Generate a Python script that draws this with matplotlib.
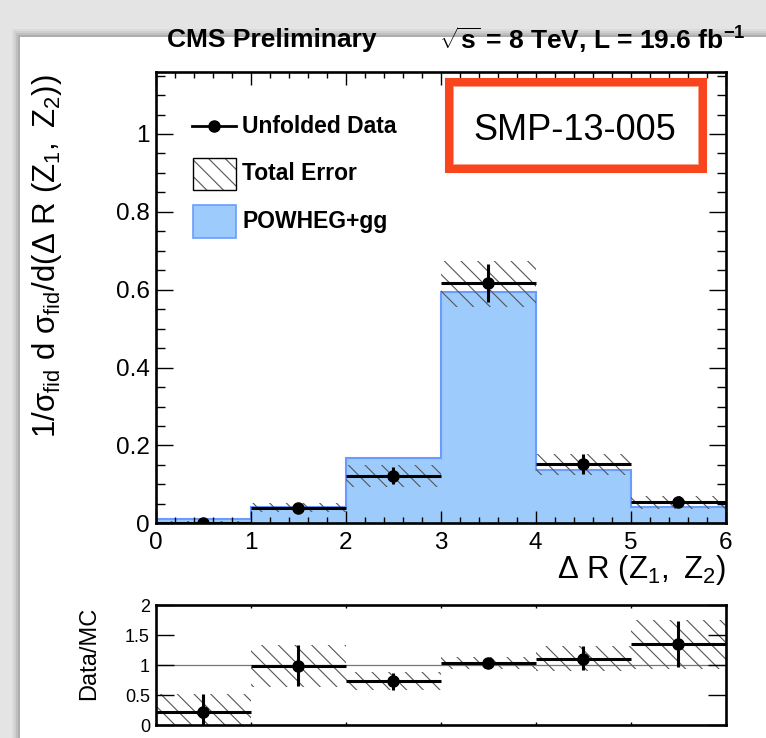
import numpy as np
import matplotlib
matplotlib.use('Agg')
import matplotlib.pyplot as plt
from matplotlib.patches import Rectangle
from matplotlib.lines import Line2D
from matplotlib.ticker import MultipleLocator

plt.rcParams['font.family'] = ['Liberation Sans', 'DejaVu Sans']
plt.rcParams['mathtext.fontset'] = 'custom'
plt.rcParams['mathtext.rm'] = 'Liberation Sans'
plt.rcParams['mathtext.it'] = 'Liberation Sans:italic'
plt.rcParams['mathtext.bf'] = 'Liberation Sans:bold'
plt.rcParams['hatch.linewidth'] = 0.8

# data
bin_edges = [0, 1, 2, 3, 4, 5, 6]
mc = [0.011, 0.041, 0.168, 0.593, 0.137, 0.041]
data = [0.002, 0.040, 0.122, 0.618, 0.152, 0.055]
data_err_lo = [0.002, 0.006, 0.022, 0.050, 0.025, 0.014]
data_err_hi = [0.002, 0.006, 0.022, 0.048, 0.025, 0.016]
band_lo = [0.0, 0.028, 0.094, 0.556, 0.124, 0.038]
band_hi = [0.006, 0.053, 0.150, 0.675, 0.177, 0.071]

ratio = [0.21, 0.99, 0.73, 1.04, 1.10, 1.35]
ratio_err_lo = [0.21, 0.34, 0.14, 0.03, 0.19, 0.39]
ratio_err_hi = [0.31, 0.34, 0.14, 0.03, 0.21, 0.39]
ratio_band_lo = [0.0, 0.64, 0.58, 0.93, 0.90, 0.93]
ratio_band_hi = [0.52, 1.33, 0.89, 1.14, 1.32, 1.75]

W, H = 766, 738
centers = 0.5 * (np.array(bin_edges[:-1]) + np.array(bin_edges[1:]))
widths = np.diff(bin_edges)


def fx(x):
    return x / W


def fy(y):
    return 1 - y / H


fig = plt.figure(figsize=(W / 100, H / 100), dpi=100)
fig.patch.set_facecolor('#e4e4e4')

# slide card with a soft shadow
for i, a in enumerate([0.04, 0.05, 0.07, 0.09]):
    d = 8 - 2 * i
    fig.add_artist(Rectangle((fx(20 - d), fy(H + 10)), fx(W + 20), fy(37 - d) - fy(H + 10),
                             transform=fig.transFigure, facecolor='k', alpha=a, lw=0, zorder=-3))
fig.add_artist(Rectangle((fx(20), 0), 1, fy(37), transform=fig.transFigure,
                         facecolor='white', lw=0, zorder=-2))

fill_c = '#9dcbfb'
edge_c = '#6a9cff'
hatch = '\\\\'

# main panel
ax = fig.add_axes([fx(155.5), fy(523.3), fx(725.7) - fx(155.5), fy(71.7) - fy(523.3)])
ax.stairs(mc, bin_edges, fill=True, color=fill_c, zorder=1)
ax.stairs(mc, bin_edges, color=edge_c, lw=1.5, zorder=1.1)
ax.bar(centers, np.array(band_hi) - np.array(band_lo), bottom=band_lo, width=widths,
       facecolor='none', edgecolor='#555555', hatch=hatch, lw=0, zorder=1.5)
ax.errorbar(centers, data, xerr=widths / 2, yerr=[data_err_lo, data_err_hi], fmt='o',
            color='k', ms=8, elinewidth=2.2, capsize=0, zorder=3)

ax.set_xlim(0, 6)
ax.set_ylim(0, 1.16)
ax.xaxis.set_major_locator(MultipleLocator(1))
ax.xaxis.set_minor_locator(MultipleLocator(0.2))
ax.yaxis.set_minor_locator(MultipleLocator(0.05))
ax.set_yticks([0, 0.2, 0.4, 0.6, 0.8, 1.0])
ax.set_yticklabels(['0', '0.2', '0.4', '0.6', '0.8', '1'])
ax.tick_params(which='both', direction='in', top=True, right=True, width=1, colors='k')
ax.tick_params(axis='y', which='major', length=12.5, labelsize=17.5, pad=4)
ax.tick_params(axis='y', which='minor', length=6.5)
ax.tick_params(axis='x', which='major', length=9, labelsize=17.5, pad=6)
ax.tick_params(axis='x', which='minor', length=4.5)
for s in ax.spines.values():
    s.set_linewidth(1.9)

ax.set_ylabel(r'$\mathregular{1/\sigma_{fid}\ d\ \sigma_{fid}/d(\Delta\ R\ (Z_{1},\ Z_{2}))}$',
              fontsize=22.5)
ax.yaxis.set_label_coords((64 - 155.5) / 570.2, (523.3 - 256) / 451.6)
ax.text(1.0, (523.3 - 578) / 451.6, r'$\mathregular{\Delta\ R\ (Z_{1},\ Z_{2})}$',
        transform=ax.transAxes, ha='right', va='baseline', fontsize=22.5)


def ax_pt(px, py):
    return (px - 155.5) / 570.2, (523.3 - py) / 451.6


# legend drawn by hand
x0, yl = ax_pt(192, 126)
x1, _ = ax_pt(236, 126)
xm, _ = ax_pt(214, 126)
ax.add_line(Line2D([x0, x1], [yl, yl], transform=ax.transAxes, color='k', lw=2))
ax.add_line(Line2D([xm], [yl], transform=ax.transAxes, color='k', marker='o', ms=8))
bx, by = ax_pt(193, 190)
bx2, by2 = ax_pt(236, 158)
ax.add_patch(Rectangle((bx, by), bx2 - bx, by2 - by, transform=ax.transAxes,
                       facecolor='white', edgecolor='#555555', hatch=hatch, lw=0, zorder=4))
ax.add_patch(Rectangle((bx, by), bx2 - bx, by2 - by, transform=ax.transAxes,
                       facecolor='none', edgecolor='k', lw=1, zorder=4))
cx, cy = ax_pt(193, 238)
cx2, cy2 = ax_pt(236, 205)
ax.add_patch(Rectangle((cx, cy), cx2 - cx, cy2 - cy, transform=ax.transAxes,
                       facecolor=fill_c, edgecolor=edge_c, lw=1.2, zorder=4))
for label, py in [('Unfolded Data', 126), ('Total Error', 173), ('POWHEG+gg', 221)]:
    tx, ty = ax_pt(242, py)
    ax.text(tx, ty, label, transform=ax.transAxes, ha='left', va='center',
            fontsize=16.5, fontweight='bold')

# SMP stamp
red = '#f8451e'
fig.add_artist(Rectangle((fx(449), fy(169)), fx(703) - fx(449), fy(82) - fy(169),
                         transform=fig.transFigure, facecolor='white', edgecolor=red,
                         lw=5.8, zorder=5))
fig.add_artist(Rectangle((fx(453), fy(165)), fx(699) - fx(453), fy(86) - fy(165),
                         transform=fig.transFigure, facecolor='none', edgecolor=red,
                         lw=1.2, alpha=0.6, zorder=5))
fig.text(fx(575), fy(131), 'SMP-13-005', ha='center', va='center', fontsize=26, zorder=6)

# header
fig.text(fx(272), fy(40), 'CMS Preliminary', ha='center', va='center', fontsize=19,
         fontweight='bold')
fig.text(fx(592), fy(40), r'$\mathbf{\sqrt{s}}$ = 8 TeV, L = 19.6 fb$\mathbf{^{-1}}$',
         ha='center', va='center', fontsize=19, fontweight='bold')

# ratio panel
rax = fig.add_axes([fx(155.5), fy(725), fx(725.7) - fx(155.5), fy(605) - fy(725)])
rax.bar(centers, np.array(ratio_band_hi) - np.array(ratio_band_lo), bottom=ratio_band_lo,
        width=widths, facecolor='none', edgecolor='#555555', hatch=hatch, lw=0, zorder=1.5)
rax.axhline(1, color='#777777', lw=0.9, zorder=1)
rax.errorbar(centers, ratio, xerr=widths / 2, yerr=[ratio_err_lo, ratio_err_hi], fmt='o',
             color='k', ms=8, elinewidth=2.2, capsize=0, zorder=3)
rax.set_xlim(0, 6)
rax.set_ylim(0, 2)
rax.set_yticks([0, 0.5, 1, 1.5, 2])
rax.set_yticklabels(['0', '0.5', '1', '1.5', '2'])
rax.xaxis.set_major_locator(MultipleLocator(1))
rax.tick_params(which='both', direction='in', top=True, right=True, width=1, colors='k')
rax.tick_params(axis='y', length=13, labelsize=13, pad=4)
rax.tick_params(axis='x', length=2, labelbottom=False)
for s in rax.spines.values():
    s.set_linewidth(1.9)
rax.set_ylabel('Data/MC', fontsize=17)
rax.yaxis.set_label_coords((100 - 155.5) / 570.2, (725 - 653) / 120)

fig.savefig('out.png', dpi=100, facecolor=fig.get_facecolor())
